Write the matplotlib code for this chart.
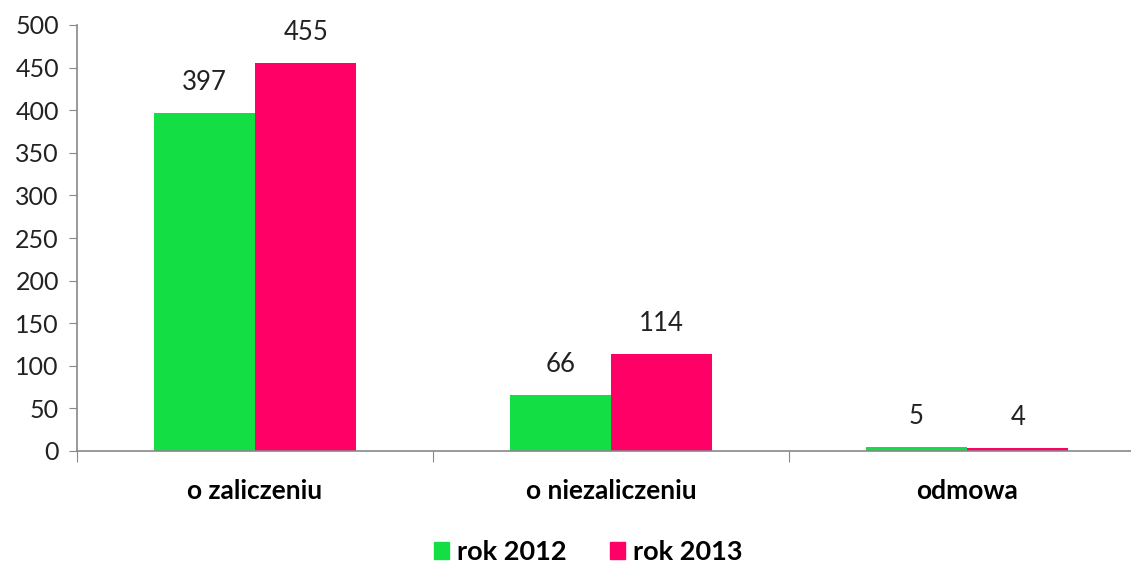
import matplotlib.pyplot as plt
import numpy as np
from matplotlib.patches import Patch

categories = ['o zaliczeniu', 'o niezaliczeniu', 'odmowa']
series_names = ['rok 2012', 'rok 2013']
values_2012 = [397, 66, 5]
values_2013 = [455, 114, 4]
colors = ['#13DF45', '#FF0066']

plt.rcParams['font.family'] = ['Lato', 'DejaVu Sans']

W, H = 1131, 564
fig = plt.figure(figsize=(W / 100, H / 100), dpi=100)
# axes spans past the right edge of the figure, like the original
left, right = 77 / W, 1145 / W
top, bottom = 1 - 25 / H, 1 - 451 / H
ax = fig.add_axes([left, bottom, right - left, top - bottom])

x = np.arange(len(categories))
bw = 0.285
b1 = ax.bar(x - bw / 2, values_2012, bw, color=colors[0])
b2 = ax.bar(x + bw / 2, values_2013, bw, color=colors[1])

for bars in (b1, b2):
    for rect in bars:
        h = rect.get_height()
        ax.annotate(str(int(h)), (rect.get_x() + rect.get_width() / 2, h),
                    xytext=(0, 13), textcoords='offset points',
                    ha='center', va='bottom', fontsize=18.5, color='#222222')

ax.set_xlim(-0.5, len(categories) - 0.5)
ax.set_ylim(0, 500)
ax.set_yticks(range(0, 501, 50))
ax.tick_params(axis='y', labelsize=18, length=6, color='#888888',
               labelcolor='#222222', pad=7)

# category labels centered, ticks at boundaries
ax.set_xticks(np.arange(len(categories) + 1) - 0.5)
ax.set_xticklabels([])
ax.tick_params(axis='x', length=8, color='#888888')
ax.set_xticks(x, minor=True)
ax.set_xticklabels(categories, minor=True, fontsize=19, fontweight='bold')
ax.tick_params(axis='x', which='minor', length=0, pad=20)

for s in ['top', 'right']:
    ax.spines[s].set_visible(False)
for s in ['left', 'bottom']:
    ax.spines[s].set_color('#888888')
    ax.spines[s].set_linewidth(1.2)

handles = [Patch(color=c) for c in colors]
fig.legend(handles, series_names, loc='center', bbox_to_anchor=(588 / W, 1 - 552 / H),
           ncol=2, frameon=False, handlelength=0.55, handleheight=0.55,
           handletextpad=0.3, columnspacing=1.6,
           prop={'size': 19.5, 'weight': 'bold'})

fig.savefig('out.png', dpi=100)
